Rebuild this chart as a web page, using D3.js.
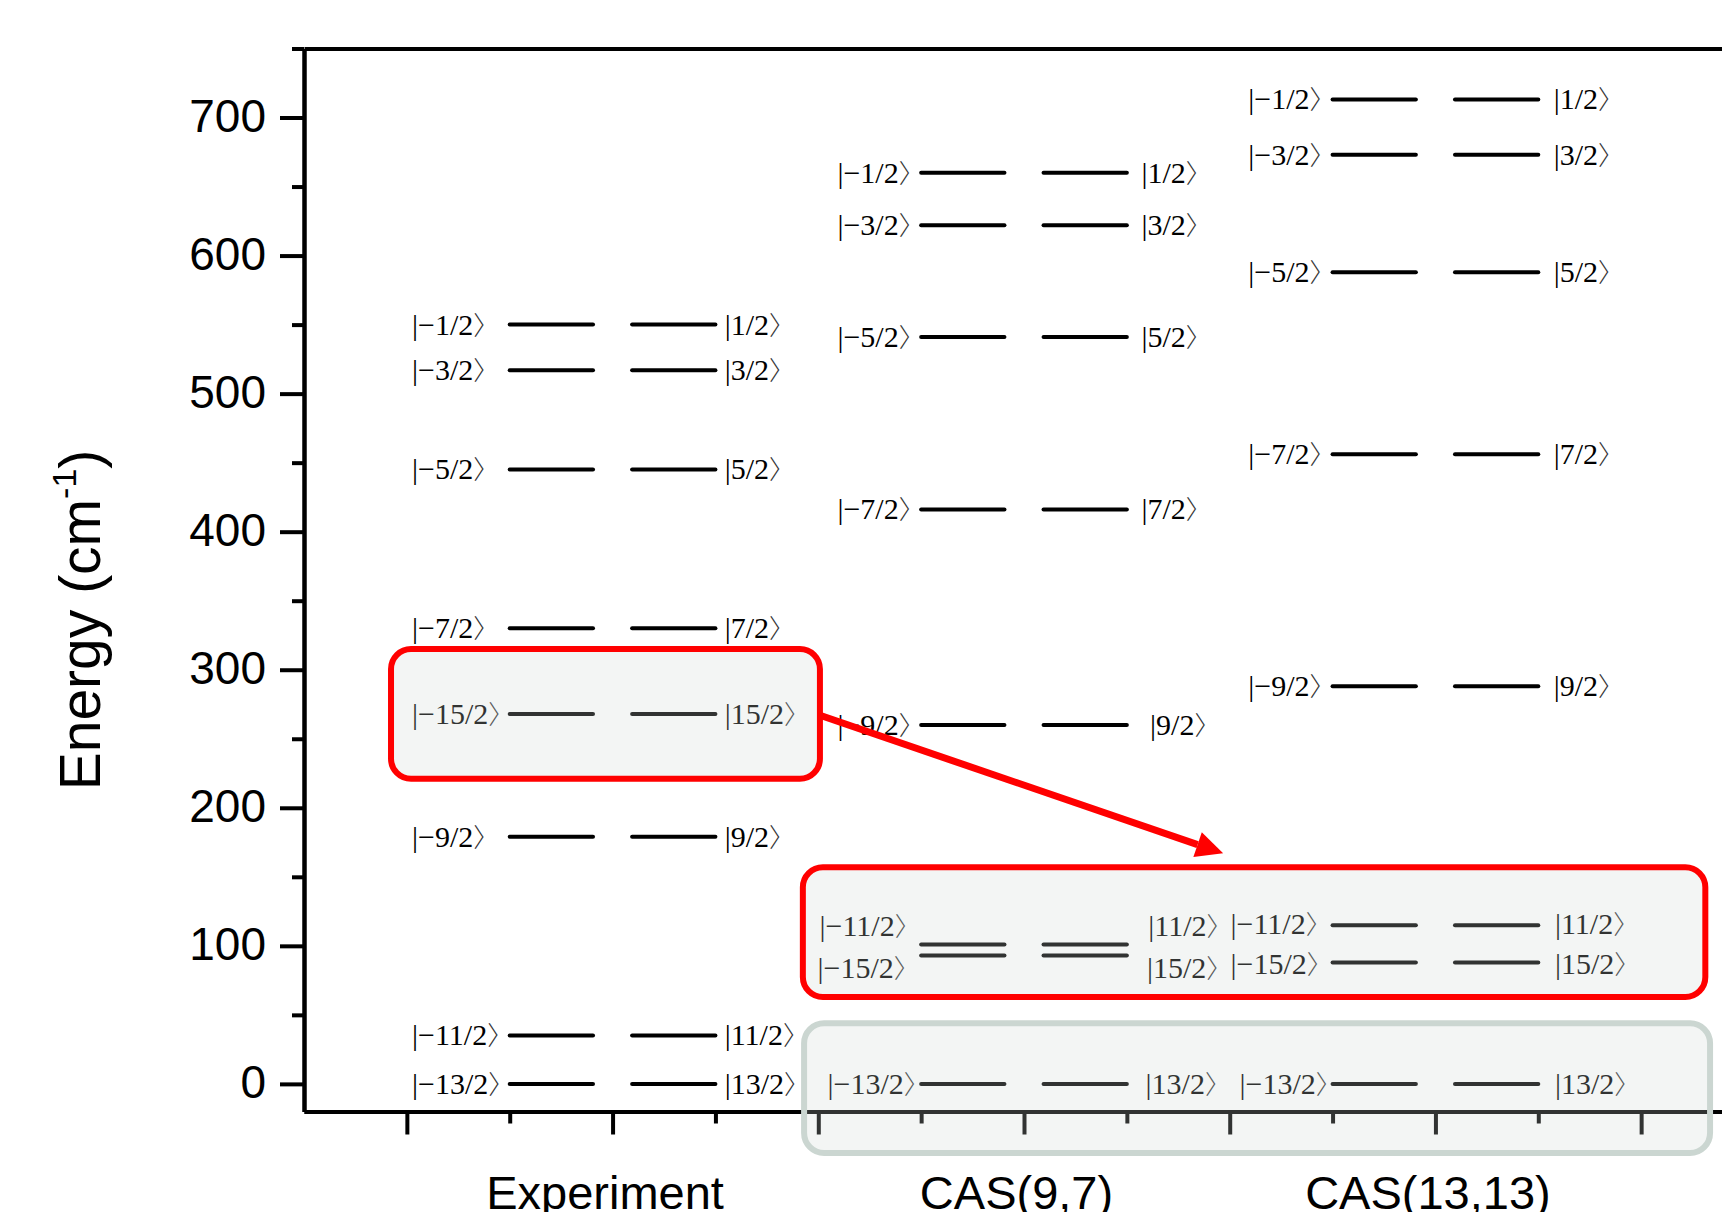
<!DOCTYPE html>
<html lang="en">
<head>
<meta charset="UTF-8">
<title>Crystal field levels</title>
<script src="https://d3js.org/d3.v7.min.js"></script>
<style>
  body { margin: 0; background: #fff; }
  .axis path, .axis line { stroke: #000; stroke-width: 4px; }
  .axis text { font-family: "Liberation Sans", Arial, sans-serif; fill: #000; }
  .level { stroke: #000; stroke-width: 4px; stroke-linecap: round; }
  .ket { font-family: "Liberation Serif", "Times New Roman", serif; font-size: 30px; fill: #000; }
  .ket .br { font-family: "Noto Sans CJK JP", "DejaVu Sans", sans-serif; font-weight: 300; font-size: 26px; fill: #333; }
</style>
</head>
<body>
<div id="chart"></div>
<script>
// data
const methods = ["Experiment", "CAS(9,7)", "CAS(13,13)"];
const methodPos = [2, 4, 6];
const states = ["1/2", "3/2", "5/2", "7/2", "9/2", "11/2", "13/2", "15/2"];
const expEnergy = [550, 517, 445, 330, 179, 35, 0, 268];
const cas97Energy = [660, 622, 541, 416, 260, 101, 0, 93];
const cas1313Energy = [713, 673, 588, 456, 288, 115, 0, 88];
const energies = [expEnergy, cas97Energy, cas1313Energy];
const yMajor = [0, 100, 200, 300, 400, 500, 600, 700];
const yMinor = [50, 150, 250, 350, 450, 550, 650, 750];
const xMajor = [1, 2, 3, 4, 5, 6, 7];
const xMinor = [1.5, 2.5, 3.5, 4.5, 5.5, 6.5];

// label placement (x units from method centre), with a few hand tweaks [dxL, dxR, dE]
const labelStart = { left: [-0.975, -0.907, -0.91], right: [0.545, 0.571, 0.575] };
const labelTweak = {
  "CAS(9,7)|9/2": [0, 0.042, 0],
  "CAS(9,7)|11/2": [-0.087, 0.033, 13],
  "CAS(9,7)|15/2": [-0.097, 0.027, -9],
  "CAS(9,7)|13/2": [-0.048, 0.02, 0],
  "CAS(13,13)|11/2": [-0.086, 0.006, 1],
  "CAS(13,13)|15/2": [-0.086, 0.006, -1],
  "CAS(13,13)|13/2": [-0.042, 0.006, 0]
};

// highlight boxes [x0, x1], [Etop, Ebottom]; arrow [x0, E0, x1, E1]
const boxes = [
  { x: [0.923, 3.008], e: [315, 221], stroke: "#ff0000" },
  { x: [2.925, 7.312], e: [157, 63], stroke: "#ff0000" },
  { x: [2.931, 7.335], e: [44, -50], stroke: "#cbd6d1" }
];
const arrow = [3.008, 267, 4.968, 167];

const width = 1722, height = 1212;

const svg = d3.select("#chart").append("svg")
  .attr("width", width)
  .attr("height", height);

const x = d3.scaleLinear().domain([0.5, 7.5]).range([304, 1744]);
const y = d3.scaleLinear().domain([-20, 750]).range([1111.5, 48.5]);

// axes
svg.append("g").attr("class", "axis")
  .attr("transform", `translate(${x(0.5)},0)`)
  .call(d3.axisLeft(y).tickValues(yMajor).tickSize(24).tickSizeOuter(0).tickPadding(14))
  .call(g => g.selectAll("text").attr("font-size", 46).attr("dy", "0.3em"));
svg.append("g").attr("class", "axis")
  .attr("transform", `translate(${x(0.5)},0)`)
  .call(d3.axisLeft(y).tickValues(yMinor).tickSize(12).tickSizeOuter(0).tickFormat(""));

svg.append("g").attr("class", "axis")
  .attr("transform", `translate(0,${y(750)})`)
  .call(d3.axisTop(x).tickValues([]).tickSizeOuter(0));

svg.append("g").attr("class", "axis")
  .attr("transform", `translate(0,${y(-20)})`)
  .call(d3.axisBottom(x).tickValues(xMajor).tickSize(23).tickSizeOuter(0).tickFormat(""));
svg.append("g").attr("class", "axis")
  .attr("transform", `translate(0,${y(-20)})`)
  .call(d3.axisBottom(x).tickValues(xMinor).tickSize(12).tickSizeOuter(0).tickFormat(""));
svg.append("g").attr("class", "axis")
  .attr("transform", `translate(-8,${y(-20)})`)
  .call(d3.axisBottom(x).tickValues(methodPos).tickSize(0).tickPadding(64)
    .tickFormat((d, i) => methods[i]))
  .call(g => g.select(".domain").remove())
  .call(g => g.selectAll("text").attr("font-size", 47));

// y title
const yTitle = svg.append("text")
  .attr("transform", `translate(100,${620}) rotate(-90)`)
  .attr("text-anchor", "middle")
  .attr("font-family", "Liberation Sans, Arial, sans-serif")
  .attr("font-size", 57);
yTitle.append("tspan").text("Energy (cm");
yTitle.append("tspan").attr("font-size", 34).attr("dy", -24).text("-1");
yTitle.append("tspan").attr("dy", 24).text(")");

// levels
const levels = [];
methods.forEach((m, mi) => {
  states.forEach((s, si) => {
    levels.push({ method: m, c: methodPos[mi], mi, state: s, e: energies[mi][si] });
  });
});

const gLev = svg.append("g");
gLev.selectAll("line.left").data(levels).join("line")
  .attr("class", "level")
  .attr("x1", d => x(d.c - 0.5)).attr("x2", d => x(d.c - 0.095))
  .attr("y1", d => y(d.e)).attr("y2", d => y(d.e));
gLev.selectAll("line.right").data(levels).join("line")
  .attr("class", "level right")
  .attr("x1", d => x(d.c + 0.095)).attr("x2", d => x(d.c + 0.5))
  .attr("y1", d => y(d.e)).attr("y2", d => y(d.e));

// ket labels |m> on both sides
const tw = d => labelTweak[d.method + "|" + d.state] || [0, 0, 0];
const gLab = svg.append("g");
gLab.selectAll("text.l").data(levels).join("text")
  .attr("class", "ket")
  .attr("x", d => x(d.c + labelStart.left[d.mi] + tw(d)[0]))
  .attr("y", d => y(d.e + tw(d)[2]))
  .attr("dy", "0.33em")
  .each(function (d) {
    const t = d3.select(this);
    t.append("tspan").text("|\u2212" + d.state);
    t.append("tspan").attr("class", "br").text("\u3009");
  });
gLab.selectAll("text.r").data(levels).join("text")
  .attr("class", "ket")
  .attr("x", d => x(d.c + labelStart.right[d.mi] + tw(d)[1]))
  .attr("y", d => y(d.e + tw(d)[2]))
  .attr("dy", "0.33em")
  .each(function (d) {
    const t = d3.select(this);
    t.append("tspan").text("|" + d.state);
    t.append("tspan").attr("class", "br").text("\u3009");
  });

// highlight boxes, drawn over the levels as a translucent veil
svg.append("g").selectAll("rect").data(boxes).join("rect")
  .attr("x", d => x(d.x[0]))
  .attr("y", d => y(d.e[0]))
  .attr("width", d => x(d.x[1]) - x(d.x[0]))
  .attr("height", d => y(d.e[1]) - y(d.e[0]))
  .attr("rx", 20)
  .attr("fill", "rgba(205,212,208,0.24)")
  .attr("stroke", d => d.stroke)
  .attr("stroke-width", 6);

// arrow
const ax0 = x(arrow[0]), ay0 = y(arrow[1]), ax1 = x(arrow[2]), ay1 = y(arrow[3]);
const ang = Math.atan2(ay1 - ay0, ax1 - ax0);
const headLen = 27, headW = 13;
const bx = ax1 - headLen * Math.cos(ang), by = ay1 - headLen * Math.sin(ang);
svg.append("line")
  .attr("x1", ax0).attr("y1", ay0).attr("x2", bx).attr("y2", by)
  .attr("stroke", "#ff0000").attr("stroke-width", 7);
svg.append("path")
  .attr("d", `M${ax1},${ay1}L${bx - headW * Math.sin(ang)},${by + headW * Math.cos(ang)}` +
    `L${bx + headW * Math.sin(ang)},${by - headW * Math.cos(ang)}Z`)
  .attr("fill", "#ff0000");
</script>
</body>
</html>
